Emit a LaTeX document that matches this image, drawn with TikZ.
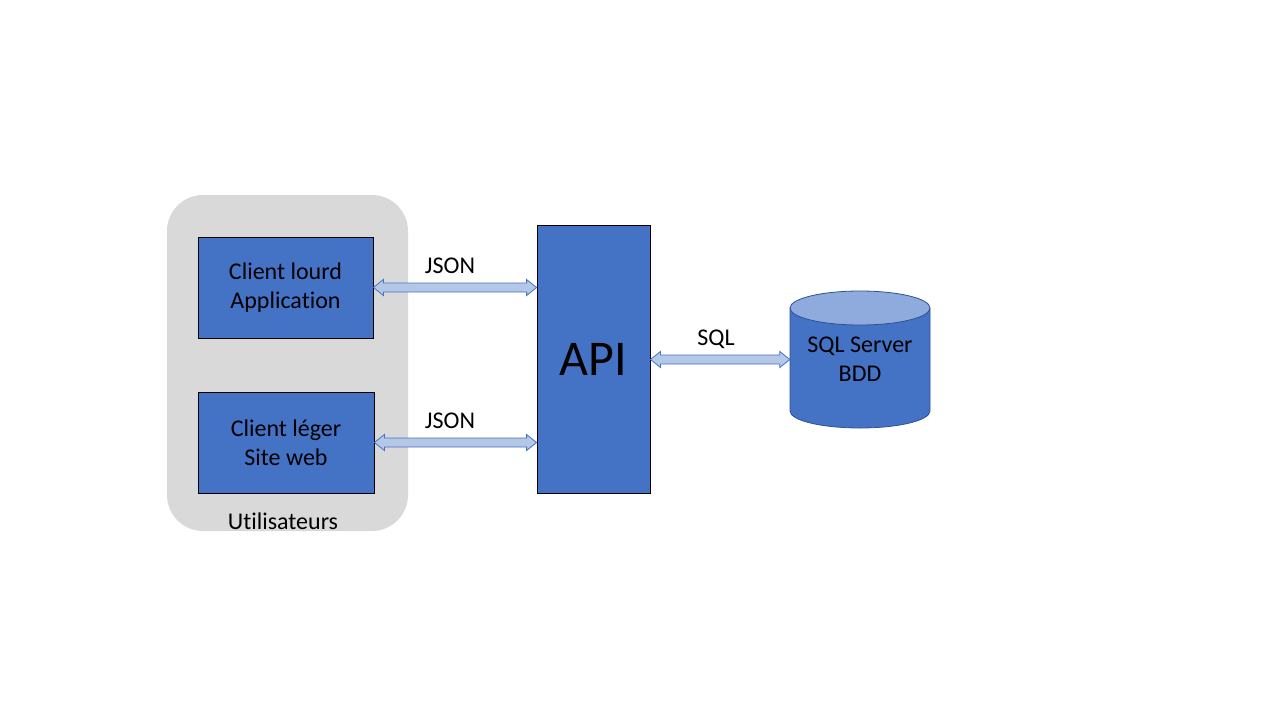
\documentclass[tikz,border=0pt]{standalone}
\usepackage{fontspec}
\setmainfont[RawFeature=-liga]{Carlito}
\usetikzlibrary{calc}
\definecolor{boxblue}{HTML}{4472C4}
\definecolor{darkblue}{HTML}{2F528F}
\definecolor{lightblue}{HTML}{8FAADC}
\definecolor{arrowfill}{HTML}{B4C7E7}
\definecolor{groupgray}{HTML}{D9D9D9}
\tikzset{
  blk/.style={draw=black, line width=0.8pt, fill=boxblue, align=center, font=\fontsize{24}{29}\selectfont, inner sep=0pt},
  lbl/.style={font=\fontsize{24}{29}\selectfont, inner sep=0pt},
  arr/.style={draw=boxblue, line width=0.8pt, fill=arrowfill, line join=miter}
}
\newcommand{\dblarr}[2]{\draw[arr] let \p1=(#1), \p2=(#2) in
  (\x1,\y1) -- (\x1+10pt,\y1-8pt) -- (\x1+10pt,\y1-4.5pt) -- (\x2-10pt,\y2-4.5pt) -- (\x2-10pt,\y2-8pt)
  -- (\x2,\y2) -- (\x2-10pt,\y2+8pt) -- (\x2-10pt,\y2+4.5pt) -- (\x1+10pt,\y1+4.5pt) -- (\x1+10pt,\y1+8pt) -- cycle;}
\begin{document}
\begin{tikzpicture}[x=1pt,y=-1pt]
\useasboundingbox (0,0) rectangle (1280,720);
% group
\node[fill=groupgray, rounded corners=36pt, minimum width=241pt, minimum height=336pt, inner sep=0pt] (grp) at (287.5,363) {};
\node[lbl] (users) at (283,521) {Utilisateurs};
% clients
\node[blk, minimum width=175pt, minimum height=101pt] (c1) at (285.5,287.5) {Client lourd\\Application};
\node[blk, minimum width=176pt, minimum height=101pt] (c2) at (286,442.5) {Client léger\\Site web};
% API
\node[blk, minimum width=113pt, minimum height=268pt, font=\fontsize{50}{60}\selectfont] (api) at (593.5,359) {API};
% database
\node[minimum width=140pt, minimum height=137pt, inner sep=0pt] (db) at (860,359.5) {};
\fill[boxblue] (790,308) -- (790,411) arc[start angle=180, end angle=360, x radius=70pt, y radius=17pt] -- (930,308) -- cycle;
\draw[darkblue, line width=0.8pt] (790,308) -- (790,411) arc[start angle=180, end angle=360, x radius=70pt, y radius=17pt] -- (930,308);
\draw[darkblue, fill=lightblue, line width=0.8pt] (860,308) ellipse[x radius=70pt, y radius=17pt];
\node[lbl, align=center] (dbtxt) at (860,359.5) {SQL Server\\BDD};
% arrows
\dblarr{c1.east}{api.west |- c1.east}
\dblarr{c2.east}{api.west |- c2.east}
\dblarr{api.east |- db.west}{db.west}
% labels
\node[lbl] (j1) at (450,266) {JSON};
\node[lbl] (j2) at (450,421) {JSON};
\node[lbl] (s1) at (716,339) {SQL};
\end{tikzpicture}
\end{document}
